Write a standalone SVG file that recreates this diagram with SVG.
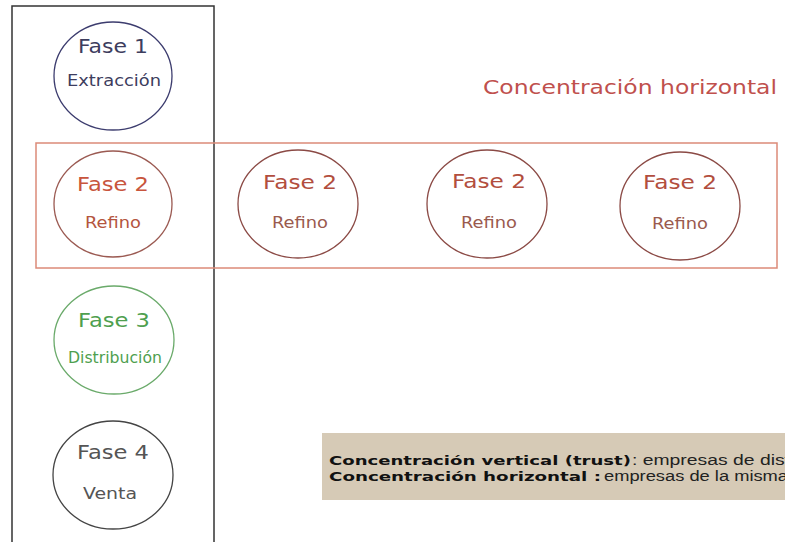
<svg xmlns="http://www.w3.org/2000/svg" width="785" height="542" viewBox="0 0 785 542">
<style>
.fase{font-family:"DejaVu Sans",Verdana,sans-serif;font-size:20px;text-anchor:middle}
.sub{font-family:"DejaVu Sans",Verdana,sans-serif;font-size:15px;text-anchor:middle}
.c{fill:none;stroke-width:1.3}
.b{font-family:"DejaVu Sans",Verdana,sans-serif;font-weight:bold;font-size:13px;fill:#111}
.r{font-family:"Liberation Sans",Arial,sans-serif;font-size:14px;fill:#222}
</style>
<rect width="785" height="542" fill="#fff"/>
<g id="trust">
<rect x="12" y="6" width="202" height="545" fill="none" stroke="#333" stroke-width="1.5"/>
</g>
<g id="horizontal">
<rect x="36" y="143" width="741" height="125" fill="none" stroke="#dc8a78" stroke-width="1.5"/>
<text x="483" y="94" font-family="DejaVu Sans,Verdana,sans-serif" font-size="20" fill="#c0504d" textLength="294" lengthAdjust="spacingAndGlyphs">Concentración horizontal</text>
</g>
<g id="f1">
<ellipse class="c" cx="113" cy="76" rx="59" ry="54" stroke="#3c3c6e"/>
<text class="fase" x="113" y="53" fill="#3d3d5e" textLength="70" lengthAdjust="spacingAndGlyphs">Fase 1</text>
<text class="sub" x="114" y="86" fill="#3d3d5e" textLength="94" lengthAdjust="spacingAndGlyphs">Extracción</text>
</g>
<g id="f2a">
<ellipse class="c" cx="113" cy="204" rx="59" ry="53" stroke="#9b5a52"/>
<text class="fase" x="113" y="191" fill="#c8553d" textLength="72" lengthAdjust="spacingAndGlyphs">Fase 2</text>
<text class="sub" x="113" y="228" fill="#b4553e" textLength="56" lengthAdjust="spacingAndGlyphs">Refino</text>
</g>
<g id="f2b">
<ellipse class="c" cx="298" cy="204" rx="60" ry="54" stroke="#8b4a45"/>
<text class="fase" x="300" y="189" fill="#b24e3e" textLength="74" lengthAdjust="spacingAndGlyphs">Fase 2</text>
<text class="sub" x="300" y="228" fill="#9a5a4e" textLength="56" lengthAdjust="spacingAndGlyphs">Refino</text>
</g>
<g id="f2c">
<ellipse class="c" cx="487" cy="204" rx="60" ry="54" stroke="#8b4a45"/>
<text class="fase" x="489" y="188" fill="#b24e3e" textLength="74" lengthAdjust="spacingAndGlyphs">Fase 2</text>
<text class="sub" x="489" y="228" fill="#9a5a4e" textLength="56" lengthAdjust="spacingAndGlyphs">Refino</text>
</g>
<g id="f2d">
<ellipse class="c" cx="680" cy="206" rx="60" ry="54" stroke="#8b4a45"/>
<text class="fase" x="680" y="189" fill="#b24e3e" textLength="74" lengthAdjust="spacingAndGlyphs">Fase 2</text>
<text class="sub" x="680" y="229" fill="#9a5a4e" textLength="56" lengthAdjust="spacingAndGlyphs">Refino</text>
</g>
<g id="f3">
<ellipse class="c" cx="114" cy="340" rx="60" ry="54" stroke="#6aaa6a"/>
<text class="fase" x="114" y="327" fill="#4f9f4f" textLength="72" lengthAdjust="spacingAndGlyphs">Fase 3</text>
<text class="sub" x="115" y="363" fill="#4f9f4f" textLength="94" lengthAdjust="spacingAndGlyphs">Distribución</text>
</g>
<g id="f4">
<ellipse class="c" cx="113" cy="475" rx="60" ry="54" stroke="#444"/>
<text class="fase" x="113" y="459" fill="#555" textLength="72" lengthAdjust="spacingAndGlyphs">Fase 4</text>
<text class="sub" x="110" y="499" fill="#555" textLength="54" lengthAdjust="spacingAndGlyphs">Venta</text>
</g>
<g id="nota">
<rect x="322" y="433" width="470" height="67" fill="#d6cab6"/>
<text class="b" x="329" y="465" textLength="302" lengthAdjust="spacingAndGlyphs">Concentración vertical (trust)</text>
<text class="r" x="632" y="465" textLength="158" lengthAdjust="spacingAndGlyphs">: empresas de dist</text>
<text class="b" x="329" y="481" textLength="272" lengthAdjust="spacingAndGlyphs">Concentración horizontal :</text>
<text class="r" x="604" y="481" textLength="184" lengthAdjust="spacingAndGlyphs"> empresas de la misma</text>
</g>
<g id="connectors"></g>
</svg>
